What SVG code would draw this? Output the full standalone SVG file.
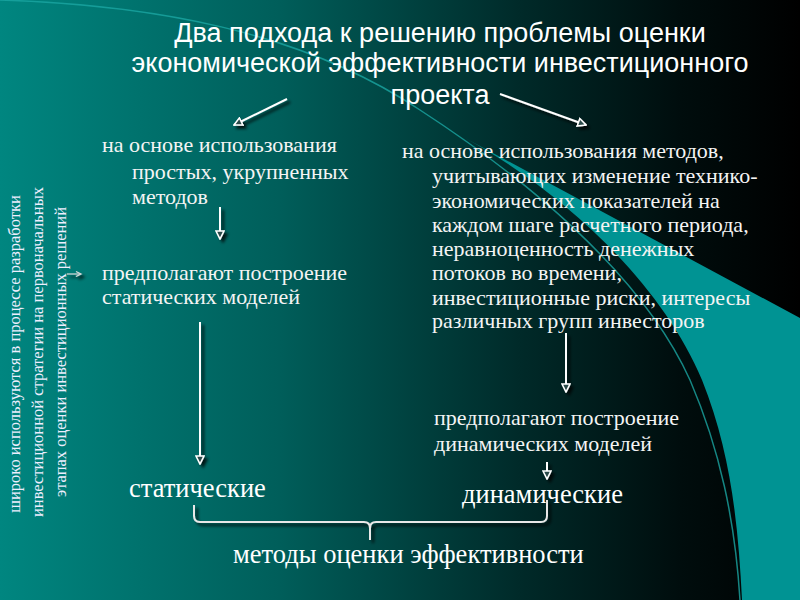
<svg xmlns="http://www.w3.org/2000/svg" width="800" height="600" viewBox="0 0 800 600">
<defs>
  <linearGradient id="bg" x1="0" y1="0" x2="1" y2="0">
    <stop offset="0" stop-color="#008680"/>
    <stop offset="0.35" stop-color="#005e5a"/>
    <stop offset="0.65" stop-color="#002a29"/>
    <stop offset="0.85" stop-color="#000d0d"/>
    <stop offset="1" stop-color="#000000"/>
  </linearGradient>
  <filter id="sh" x="-20%" y="-20%" width="140%" height="140%">
    <feDropShadow dx="3" dy="3" stdDeviation="1.5" flood-color="#000" flood-opacity="0.8"/>
  </filter>
  <marker id="ah" viewBox="0 0 10 10" refX="9" refY="5" markerWidth="10" markerHeight="10" markerUnits="userSpaceOnUse" orient="auto">
    <path d="M1,1 L9,5 L1,9 Z" fill="#2a4a48" stroke="#fff" stroke-width="1.6"/>
  </marker>
  <style>
    .title{font-family:"Liberation Sans",Arial,sans-serif;font-size:27px;fill:#fff;text-anchor:middle}
    .t{font-family:"Liberation Serif","Times New Roman",serif;font-size:22px;fill:#f4f4f4}
    .big{font-family:"Liberation Serif","Times New Roman",serif;font-size:26.5px;fill:#fff}
    .side{font-family:"Liberation Serif","Times New Roman",serif;font-size:16.5px;fill:#eef;text-anchor:middle}
    .arr{stroke:#fff;stroke-width:2;fill:none;marker-end:url(#ah)}
    .brace{stroke:#e8e8e8;stroke-width:2;fill:none}
  </style>
</defs>

<!-- background -->
<rect width="800" height="600" fill="url(#bg)"/>
<path d="M465,138 L800,318 L800,600 L742,600 C738,520 730,450 702,380 C660,280 560,190 465,138 Z" fill="#009393"/>
<path d="M0,0 C150,5 300,30 420,110 C520,175 640,270 690,380 C720,450 735,520 740,600" fill="none" stroke="#1aa6a2" stroke-width="1.5" opacity="0.8"/>

<!-- title -->
<g id="title">
  <text class="title" x="440" y="42">Два подхода к решению проблемы оценки</text>
  <text class="title" x="440" y="72">экономической эффективности инвестиционного</text>
  <text class="title" x="440" y="104">проекта</text>
</g>

<!-- side note -->
<g id="side-note">
  <text class="side" transform="translate(20,354) rotate(-90)">широко используются в процессе разработки</text>
  <text class="side" transform="translate(43,352) rotate(-90)">инвестиционной стратегии на первоначальных</text>
  <text class="side" transform="translate(66,352) rotate(-90)">этапах оценки инвестиционных решений</text>
</g>

<g id="simple-methods">
  <text class="t" x="102" y="152">на основе использования</text>
  <text class="t" x="132" y="179">простых, укрупненных</text>
  <text class="t" x="132" y="204">методов</text>
</g>

<g id="static-models">
  <text class="t" x="102" y="280">предполагают построение</text>
  <text class="t" x="102" y="304">статических моделей</text>
</g>

<g id="dynamic-methods">
  <text class="t" x="402" y="158">на основе использования методов,</text>
  <text class="t" x="432" y="183">учитывающих изменение технико-</text>
  <text class="t" x="432" y="208">экономических показателей на</text>
  <text class="t" x="432" y="232">каждом шаге расчетного периода,</text>
  <text class="t" x="432" y="256">неравноценность денежных</text>
  <text class="t" x="432" y="280">потоков во времени,</text>
  <text class="t" x="432" y="305">инвестиционные риски, интересы</text>
  <text class="t" x="432" y="328">различных групп инвесторов</text>
</g>

<g id="dynamic-models">
  <text class="t" x="434" y="425">предполагают построение</text>
  <text class="t" x="434" y="451">динамических моделей</text>
</g>

<g id="static">
  <text class="big" x="129" y="497">статические</text>
</g>
<g id="dynamic">
  <text class="big" x="462" y="503">динамические</text>
</g>
<g id="methods">
  <text class="big" x="233" y="563">методы оценки эффективности</text>
</g>

<!-- connectors -->
<g id="connectors" filter="url(#sh)">
  <line class="arr" x1="287" y1="99" x2="234" y2="125"/>
  <line class="arr" x1="500" y1="94" x2="586" y2="125"/>
  <line class="arr" x1="220" y1="207" x2="220" y2="239"/>
  <line class="arr" x1="200" y1="322" x2="200" y2="464"/>
  <line class="arr" x1="566" y1="333" x2="566" y2="392"/>
  <line class="arr" x1="547" y1="462" x2="547" y2="479"/>
  <line stroke="#ddd" stroke-width="1.2" x1="67" y1="274" x2="80" y2="274"/>
  <path d="M76,271.5 L81,274 L76,276.5" fill="none" stroke="#ddd" stroke-width="1.2"/>
  <path class="brace" d="M194,505 L194,516 Q194,522 200,522 L364,522 Q370,522 370,528 L370,540 M370,528 Q370,522 376,522 L541,522 Q547,522 547,516 L547,500"/>
</g>
</svg>
